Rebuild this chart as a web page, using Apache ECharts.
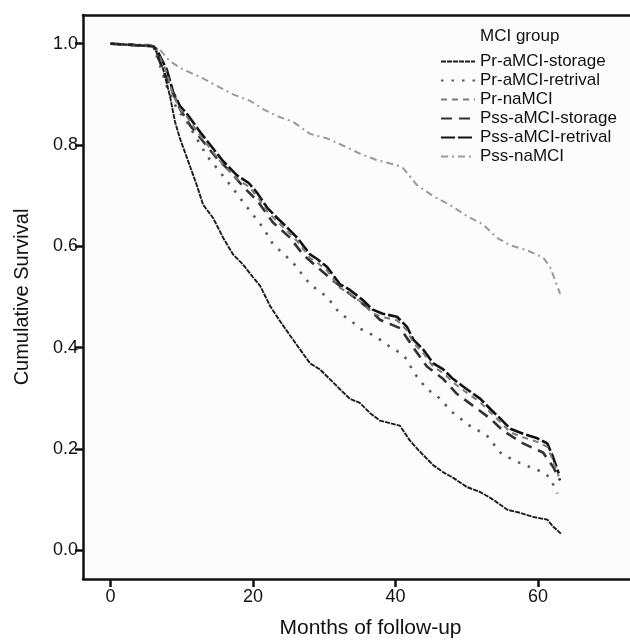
<!DOCTYPE html>
<html>
<head>
<meta charset="utf-8">
<script src="https://cdn.jsdelivr.net/npm/echarts@6/dist/echarts.min.js"></script>
<style>html,body{margin:0;padding:0;background:#fff;}#chart{width:630px;height:644px;}</style>
</head>
<body>
<div id="chart"></div>
<script>
// ---- data (months, cumulative survival) ----
const seriesNames = ['Pr-aMCI-storage','Pr-aMCI-retrival','Pr-naMCI','Pss-aMCI-storage','Pss-aMCI-retrival','Pss-naMCI'];
const xTicks = [0, 20, 40, 60];
const yTicks = [0.0, 0.2, 0.4, 0.6, 0.8, 1.0];

const prAmciStorage = [[0,1],[6,0.995],[6.25,0.99],[7.4,0.949],[8.35,0.896],[9.05,0.846],[9.75,0.8125],[10.9,0.768],[12.1,0.721],[13.0,0.682],[14.4,0.656],[15.8,0.617],[17.2,0.584],[18.6,0.564],[20.0,0.539],[21.0,0.522],[22.4,0.482],[23.8,0.452],[25.6,0.416],[28.0,0.369],[29.4,0.357],[32.2,0.318],[33.6,0.299],[35.0,0.291],[36.4,0.271],[37.8,0.256],[40.6,0.246],[42.0,0.217],[43.4,0.195],[45.3,0.168],[46.7,0.154],[48.1,0.143],[50.0,0.125],[51.9,0.115],[53.3,0.1035],[54.7,0.090],[55.7,0.080],[57.5,0.074],[59.3,0.066],[61.3,0.0605],[62.1,0.047],[63.2,0.033]];

const prAmciRetrival = [[0,1],[6,0.995],[7.0,0.955],[7.9,0.916],[9.33,0.871],[10.7,0.846],[12.1,0.8125],[13.5,0.779],[14.95,0.754],[16.8,0.721],[18.2,0.695],[20.0,0.662],[21.4,0.637],[22.8,0.604],[25.6,0.568],[28.0,0.525],[30.4,0.500],[32.2,0.467],[33.6,0.455],[35.0,0.4375],[36.4,0.428],[37.8,0.416],[39.2,0.402],[40.6,0.390],[41.6,0.377],[42.5,0.352],[44.4,0.318],[45.8,0.305],[48.1,0.271],[50.4,0.246],[52.8,0.227],[54.7,0.193],[56.5,0.178],[58.9,0.164],[60.7,0.154],[61.7,0.143],[62.7,0.112]];

const prNaMci = [[0,1],[6,0.995],[6.6,0.984],[7.9,0.943],[8.8,0.898],[9.75,0.871],[10.7,0.856],[12.6,0.818],[14.4,0.786],[15.8,0.761],[17.75,0.733],[19.4,0.718],[20.6,0.698],[22.0,0.669],[23.4,0.649],[24.8,0.630],[26.2,0.610],[28.0,0.577],[29.0,0.568],[30.4,0.552],[32.2,0.518],[33.6,0.507],[35.4,0.487],[36.8,0.468],[38.2,0.460],[40.2,0.454],[41.6,0.434],[42.5,0.409],[43.9,0.389],[45.3,0.362],[46.7,0.350],[48.1,0.331],[50.0,0.311],[51.9,0.292],[53.3,0.272],[54.7,0.253],[56.1,0.233],[57.9,0.223],[59.9,0.214],[61.3,0.204],[62.1,0.177],[62.9,0.146]];

const pssAmciStorage = [[0,1],[6,0.995],[6.95,0.963],[8.35,0.916],[9.75,0.871],[11.2,0.838],[13.0,0.807],[14.95,0.773],[16.8,0.748],[18.6,0.718],[20.6,0.690],[22.8,0.647],[25.2,0.617],[27.0,0.584],[29.0,0.559],[31.2,0.533],[33.6,0.506],[36.0,0.480],[37.8,0.455],[40.7,0.438],[42.5,0.400],[44.4,0.363],[46.7,0.338],[48.6,0.309],[50.9,0.285],[53.3,0.260],[55.1,0.236],[57.9,0.211],[60.7,0.193],[62.1,0.165],[63.1,0.138]];

const pssAmciRetrival = [[0,1],[6,0.995],[6.5,0.988],[7.9,0.949],[8.8,0.904],[9.75,0.877],[10.7,0.862],[12.6,0.825],[14.4,0.793],[15.8,0.768],[17.75,0.740],[19.4,0.725],[20.6,0.705],[22.0,0.676],[23.4,0.656],[24.8,0.637],[26.2,0.617],[28.0,0.584],[29.0,0.575],[30.4,0.559],[32.2,0.525],[33.6,0.514],[35.4,0.494],[36.8,0.475],[38.2,0.467],[40.2,0.461],[41.6,0.441],[42.5,0.416],[43.9,0.396],[45.3,0.369],[46.7,0.357],[48.1,0.338],[50.0,0.318],[51.9,0.299],[53.3,0.279],[54.7,0.260],[56.1,0.240],[57.9,0.230],[59.9,0.221],[61.3,0.211],[62.1,0.184],[62.9,0.152]];

const pssNaMci = [[0,1],[5.5,0.998],[6.95,0.988],[8.35,0.965],[10.2,0.949],[12.6,0.934],[15.0,0.916],[17.2,0.900],[19.6,0.887],[21.4,0.871],[23.4,0.857],[25.6,0.846],[28.0,0.822],[30.4,0.813],[32.6,0.799],[35.0,0.783],[37.4,0.770],[40.2,0.760],[41.1,0.754],[43.0,0.721],[45.3,0.699],[47.6,0.682],[50.0,0.660],[52.3,0.643],[54.2,0.617],[56.1,0.602],[58.5,0.592],[60.7,0.578],[61.7,0.559],[63.1,0.506]];

const seriesData = [prAmciStorage, prAmciRetrival, prNaMci, pssAmciStorage, pssAmciRetrival, pssNaMci];

// ---- styles ----
const lineStyles = [
  {color:'#1c1c1c', width:1.9, type:[5,1]},
  {color:'#5a5a5a', width:2.6, type:[2.5,8]},
  {color:'#7a7a7a', width:2, type:[6,5]},
  {color:'#333333', width:2.6, type:[11,7]},
  {color:'#111111', width:2.6, type:[14,3]},
  {color:'#9a9a9a', width:2, type:[7,4,2,4]}
];
const FONT = 'Liberation Sans, Arial, Helvetica, sans-serif';

const chart = echarts.init(document.getElementById('chart'), null, {renderer:'canvas'});
chart.setOption({
  animation:false,
  backgroundColor:'#ffffff',
  textStyle:{fontFamily:FONT},
  title:{text:'MCI group', left:480, top:28, padding:0,
    textStyle:{fontFamily:FONT, fontSize:17, fontWeight:'normal', color:'#111'}},
  legend:{
    orient:'vertical', left:440, top:52, padding:0, itemGap:0,
    itemWidth:34, itemHeight:1,
    itemStyle:{opacity:0},
    textStyle:{fontFamily:FONT, fontSize:17, color:'#111', lineHeight:19},
    data:seriesNames
  },
  grid:{left:83, top:15, right:0, bottom:59, show:true, backgroundColor:'#fcfcfc', borderWidth:0},
  xAxis:[{
    type:'value', min:-3.86, max:72.9,
    name:'Months of follow-up', nameLocation:'middle', nameGap:39,
    nameTextStyle:{fontFamily:FONT, fontSize:21, color:'#111', padding:[0,0,0,28]},
    axisLine:{show:true, onZero:false, lineStyle:{color:'#111', width:2.5}},
    axisTick:{show:true, length:8, lineStyle:{color:'#111', width:2.5}, customValues:xTicks},
    axisLabel:{fontFamily:FONT, fontSize:18, color:'#111', margin:9, customValues:xTicks,
      formatter:function(v){return String(v);}},
    splitLine:{show:false}
  },{
    type:'value', position:'top', min:-3.86, max:72.9,
    axisLine:{show:true, onZero:false, lineStyle:{color:'#111', width:2.5}},
    axisTick:{show:false}, axisLabel:{show:false}, splitLine:{show:false}
  }],
  yAxis:{
    type:'value', min:-0.0566, max:1.0566,
    name:'Cumulative Survival', nameLocation:'middle', nameGap:51,
    nameTextStyle:{fontFamily:FONT, fontSize:20, color:'#111'},
    axisLine:{show:true, onZero:false, lineStyle:{color:'#111', width:2.5}},
    axisTick:{show:true, length:8, lineStyle:{color:'#111', width:2.5}, customValues:yTicks},
    axisLabel:{fontFamily:FONT, fontSize:18, color:'#111', margin:5, customValues:yTicks,
      formatter:function(v){return v.toFixed(1);}},
    splitLine:{show:false}
  },
  series:seriesNames.map(function(n,i){
    return {name:n, type:'line', data:seriesData[i], symbol:'none', showSymbol:false,
      lineStyle:lineStyles[i], itemStyle:{color:lineStyles[i].color}, z:10-i, silent:true};
  })
});
</script>
</body>
</html>
